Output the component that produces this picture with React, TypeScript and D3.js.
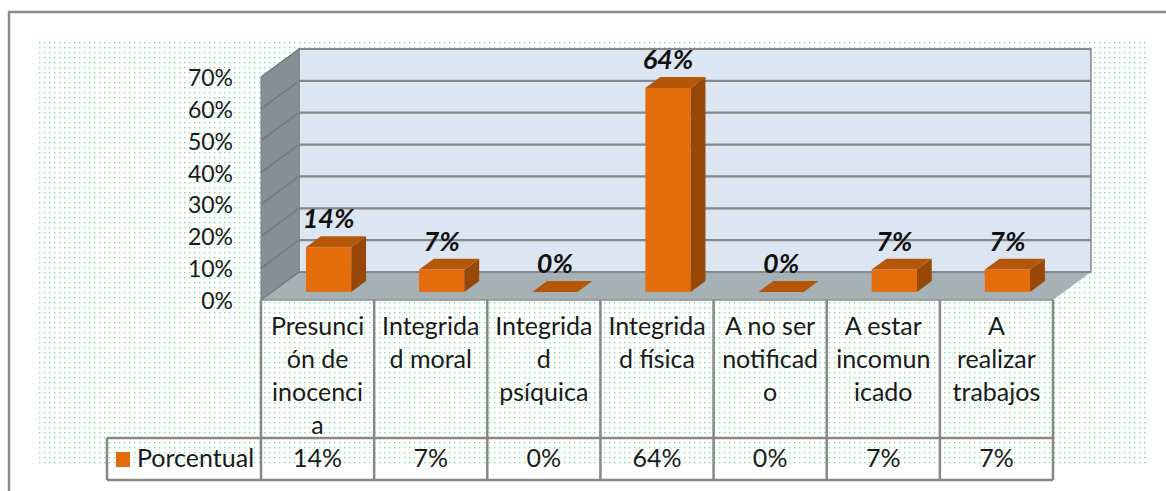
import React from 'react';
import * as d3 from 'd3';

// chart data
const categories = [
  'Presunción de inocencia',
  'Integridad moral',
  'Integridad psíquica',
  'Integridad física',
  'A no ser notificado',
  'A estar incomunicado',
  'A realizar trabajos',
];
// label lines as wrapped in the data table
const categoryLines = [
  ['Presunci', 'ón de', 'inocenci', 'a'],
  ['Integrida', 'd moral'],
  ['Integrida', 'd', 'psíquica'],
  ['Integrida', 'd física'],
  ['A no ser', 'notificad', 'o'],
  ['A estar', 'incomun', 'icado'],
  ['A', 'realizar', 'trabajos'],
];
const values = [14, 7, 0, 64, 0, 7, 7];
const yTicks = [0, 10, 20, 30, 40, 50, 60, 70];
const seriesName = 'Porcentual';

const W = 1166;
const H = 491;
const FONT = 'Lato, "Open Sans", sans-serif';

// 3D depth offset of the floor / walls
const DX = 38;
const DY = -28;
// bar depth inside the floor (fraction of full depth)
const T0 = 0.29;
const T1 = 0.68;

const ORANGE = '#e46c0a';
const ORANGE_TOP = '#b55709';
const ORANGE_SIDE = '#974806';
const LINE = '#878787';
const TEXT = '#1a1a1a';

const App: React.FC = () => {
  const x = d3.scaleBand<string>().domain(categories).range([261, 1053]);
  const y = d3.scaleLinear().domain([0, 70]).range([300, 77]);
  const bw = x.bandwidth();
  const barW = bw * 0.4;

  const x0 = 261;
  const x1 = 1053;
  const yBase = y(0);
  const yTop = y(70);

  const pts = (arr: [number, number][]) => arr.map(p => p.join(',')).join(' ');

  const tableTop = 300;
  const rowSplit = 438;
  const tableBottom = 480;
  const legendLeft = 107;

  return (
    <svg width={W} height={H} style={{ position: 'absolute', left: 0, top: 0, background: '#fff' }}>
      <defs>
        <pattern id="dots" width={5} height={5} patternUnits="userSpaceOnUse" x={38} y={41}>
          <rect x={1} y={1} width={1.4} height={1.4} fill="#4cc97a" opacity={0.7} />
        </pattern>
      </defs>

      {/* outer frame */}
      <rect x={9} y={12} width={1170} height={500} fill="#fff" stroke="#8a8a8a" strokeWidth={2.5} />

      {/* dotted chart area */}
      <rect x={38} y={41} width={1110} height={426} fill="url(#dots)" />

      {/* back wall */}
      <polygon
        points={pts([[x0 + DX, yTop + DY], [x1 + DX, yTop + DY], [x1 + DX, yBase + DY], [x0 + DX, yBase + DY]])}
        fill="#dce6f2"
        stroke={LINE}
        strokeWidth={1.5}
      />
      {/* side wall */}
      <polygon
        points={pts([[x0, yTop], [x0 + DX, yTop + DY], [x0 + DX, yBase + DY], [x0, yBase]])}
        fill="#878e96"
        stroke="#7a7f86"
        strokeWidth={1}
      />
      {/* floor */}
      <polygon
        points={pts([[x0, yBase], [x1, yBase], [x1 + DX, yBase + DY], [x0 + DX, yBase + DY]])}
        fill="#a6b1b5"
      />

      {/* gridlines */}
      {yTicks.map(t => (
        <g key={t}>
          <line x1={x0 + DX} x2={x1 + DX} y1={y(t) + DY} y2={y(t) + DY} stroke={LINE} strokeWidth={2.2} />
          <line x1={x0} x2={x0 + DX} y1={y(t)} y2={y(t) + DY} stroke="#737980" strokeWidth={1.5} />
        </g>
      ))}

      {/* y axis labels */}
      {yTicks.map(t => (
        <text
          key={t}
          x={233}
          y={y(t) + 9}
          textAnchor="end"
          fontFamily={FONT}
          fontSize={23}
          fill={TEXT}
        >
          {t}%
        </text>
      ))}

      {/* bars */}
      {categories.map((c, i) => {
        const v = values[i];
        const cx = (x(c) || 0) + bw / 2 + DX * T0;
        const fx0 = cx - barW / 2;
        const fx1 = cx + barW / 2;
        const fb = yBase + DY * T0;
        const ft = fb - (yBase - y(v));
        const ddx = DX * (T1 - T0);
        const ddy = DY * (T1 - T0);
        return (
          <g key={c}>
            {v > 0 && <rect x={fx0} y={ft} width={barW} height={fb - ft} fill={ORANGE} />}
            {v > 0 && (
              <polygon
                points={pts([[fx1, ft], [fx1 + ddx, ft + ddy], [fx1 + ddx, fb + ddy], [fx1, fb]])}
                fill={ORANGE_SIDE}
              />
            )}
            <polygon
              points={pts([[fx0, ft], [fx1, ft], [fx1 + ddx, ft + ddy], [fx0 + ddx, ft + ddy]])}
              fill={ORANGE_TOP}
            />
            <text
              x={cx}
              y={ft + ddy - 8}
              textAnchor="middle"
              fontFamily={FONT}
              fontSize={27}
              fontWeight={700}
              fontStyle="italic"
              fill="#111"
            >
              {v}%
            </text>
          </g>
        );
      })}

      {/* data table */}
      <g stroke={LINE} strokeWidth={2.5} fill="none">
        <line x1={x0} x2={x1} y1={tableTop} y2={tableTop} stroke="#8a8f93" strokeWidth={1.5} />
        {d3.range(categories.length + 1).map(i => {
          const lx = x0 + i * bw;
          return <line key={i} x1={lx} x2={lx} y1={tableTop} y2={tableBottom} />;
        })}
        <line x1={legendLeft} x2={x1} y1={rowSplit} y2={rowSplit} />
        <line x1={legendLeft} x2={x1} y1={tableBottom} y2={tableBottom} />
        <line x1={legendLeft} x2={legendLeft} y1={rowSplit} y2={tableBottom} />
      </g>

      {categories.map((c, i) => {
        const cx = (x(c) || 0) + bw / 2;
        return (
          <g key={c}>
            {categoryLines[i].map((ln, j) => (
              <text
                key={j}
                x={cx}
                y={335 + j * 33}
                textAnchor="middle"
                fontFamily={FONT}
                fontSize={25}
                fill={TEXT}
              >
                {ln}
              </text>
            ))}
            <text x={cx} y={467} textAnchor="middle" fontFamily={FONT} fontSize={25} fill={TEXT}>
              {values[i]}%
            </text>
          </g>
        );
      })}

      {/* legend key */}
      <rect x={116} y={452} width={14} height={15} fill={ORANGE} />
      <text x={137} y={467} fontFamily={FONT} fontSize={25} fill={TEXT}>
        {seriesName}
      </text>
    </svg>
  );
};

export default App;
